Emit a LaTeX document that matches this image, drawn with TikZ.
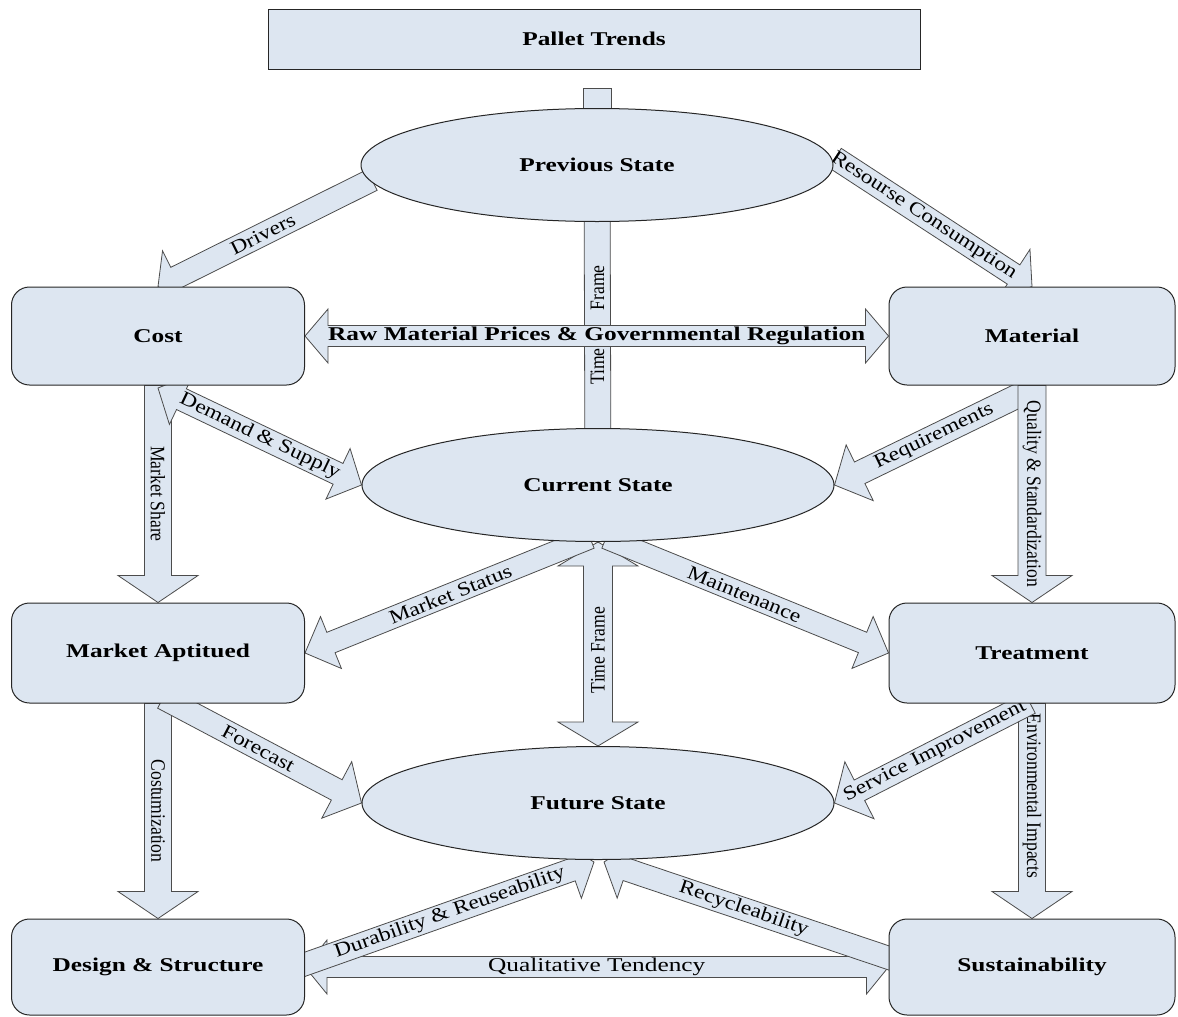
\documentclass[tikz,border=0pt]{standalone}
\usepackage{fontspec}
\setmainfont{Liberation Serif}[FakeStretch=1.3]
\newfontfamily\diagfont{Liberation Serif}[FakeStretch=1.2]
\newfontfamily\vertfont{Liberation Serif}[FakeStretch=0.86]
\usetikzlibrary{shapes.geometric,calc}
\definecolor{panel}{RGB}{221,230,241}
\pgfdeclarelayer{background}
\pgfsetlayers{background,main}
\tikzset{
    box/.style={draw=black!85, line width=1pt, fill=panel, rounded corners=18pt,
        minimum width=293pt, minimum height=98pt, font=\fontsize{19.5}{22}\selectfont\bfseries},
    state/.style={ellipse, draw=black!85, line width=1pt, fill=panel,
        minimum width=472pt, minimum height=113pt, font=\fontsize{19.5}{22}\selectfont\bfseries},
    title/.style={draw=black!85, line width=1pt, fill=panel,
        minimum width=652pt, minimum height=60pt, font=\fontsize{19.5}{22}\selectfont\bfseries},
    arrowbody/.style={draw=black!70, line width=0.8pt, fill=panel},
    tag/.style={inner sep=0pt, font=\diagfont\fontsize{19.5}{20}\selectfont},
    vtag/.style={inner sep=0pt, font=\vertfont\fontsize{20.5}{22}\selectfont},
    htag/.style={inner sep=0pt, font=\fontsize{19.5}{20}\selectfont},
    shaft/.store in=\shaftw, headw/.store in=\headw, headl/.store in=\headl,
    shaft=12pt, headw=32pt, headl=24pt
}
\newcommand\shaftbar[3][]{%
    \begin{scope}[#1]
    \draw[arrowbody] ($(#2)!\shaftw!90:(#3)$) -- ($(#3)!\shaftw!-90:(#2)$)
        -- ($(#3)!\shaftw!90:(#2)$) -- ($(#2)!\shaftw!-90:(#3)$) -- cycle;
    \end{scope}}
\newcommand\onearrow[3][]{%
    \begin{scope}[#1]
    \coordinate (hb) at ($(#3)!\headl!(#2)$);
    \draw[arrowbody] ($(#2)!\shaftw!90:(#3)$) -- ($(hb)!\shaftw!-90:(#2)$)
        -- ($(hb)!\headw!-90:(#2)$) -- (#3) -- ($(hb)!\headw!90:(#2)$)
        -- ($(hb)!\shaftw!90:(#2)$) -- ($(#2)!\shaftw!-90:(#3)$) -- cycle;
    \end{scope}}
\newcommand\twoarrow[3][]{%
    \begin{scope}[#1]
    \coordinate (ha) at ($(#2)!\headl!(#3)$);
    \coordinate (hb) at ($(#3)!\headl!(#2)$);
    \draw[arrowbody] (#2) -- ($(ha)!\headw!90:(#3)$) -- ($(ha)!\shaftw!90:(#3)$)
        -- ($(hb)!\shaftw!-90:(#2)$) -- ($(hb)!\headw!-90:(#2)$) -- (#3)
        -- ($(hb)!\headw!90:(#2)$) -- ($(hb)!\shaftw!90:(#2)$)
        -- ($(ha)!\shaftw!-90:(#3)$) -- ($(ha)!\headw!-90:(#3)$) -- cycle;
    \end{scope}}
\begin{document}
\begin{tikzpicture}[x=1pt, y=-1pt]
    \useasboundingbox (0,0) rectangle (1178,1017);
    \node[title] (trends) at (594,39) {Pallet Trends};
    \node[state] (prev) at (597,165) {Previous State};
    \node[state] (cur) at (598,485) {Current State};
    \node[state] (fut) at (598,803) {Future State};
    \node[box] (cost) at (158,336) {Cost};
    \node[box, minimum width=286pt] (mat) at (1032,336) {Material};
    \node[box, minimum height=100pt] (mkt) at (158,653) {Market Aptitued};
    \node[box, minimum width=286pt, minimum height=100pt] (treat) at (1032,653) {Treatment};
    \node[box, minimum height=96pt] (design) at (158,967) {Design \& Structure};
    \node[box, minimum width=286pt, minimum height=96pt] (sust) at (1032,967) {Sustainability};

    \begin{pgfonlayer}{background}
    \coordinate (stub) at (597,88);
    \shaftbar[shaft=14pt]{stub}{prev.center}

    \coordinate (drv) at (372,180);
    \onearrow[shaft=11.5pt, headw=30pt, headl=20pt]{drv}{cost.north}
    \path (drv) -- (cost.north) node[tag, sloped, pos=0.51] (drv-l) {Drivers};

    \coordinate (res) at (835,158);
    \onearrow[shaft=11.5pt, headw=30pt, headl=22pt]{res}{mat.north}
    \path (res) -- (mat.north) node[tag, sloped, pos=0.45] (res-l) {Resourse Consumption};

    \shaftbar[shaft=13pt]{prev.center}{cur.center}
    \path (prev.south) -- (cur.north) node[vtag, rotate=90, pos=0.5] (tf1-l) {Time\hspace{38pt}Frame};

    \twoarrow[shaft=10.5pt, headw=27pt, headl=23pt]{cost.east}{mat.west}
    \path (cost.east) -- (mat.west) node[htag, pos=0.5] (raw-l) {\bfseries Raw Material Prices \& Governmental Regulation};

    \onearrow[shaft=13.5pt, headw=40pt, headl=27pt]{cost.south}{mkt.north}
    \path (cost.south) -- (mkt.north) node[vtag, rotate=-90, pos=0.5] (ms-l) {Market Share};

    \coordinate (dem) at (158,388);
    \twoarrow[shaft=11.5pt, headw=28pt, headl=26pt]{dem}{cur.west}
    \path (dem) -- (cur.west) node[tag, sloped, pos=0.5] (dem-l) {Demand \& Supply};

    \coordinate (req) at (1030,390);
    \onearrow[shaft=12pt, headw=31pt, headl=28pt]{req}{cur.east}
    \path (req) -- (cur.east) node[tag, sloped, pos=0.49] (req-l) {Requirements};

    \onearrow[shaft=14pt, headw=40pt, headl=27pt]{mat.south}{treat.north}
    \path (mat.south) -- (treat.north) node[vtag, rotate=-90, pos=0.5] (qs-l) {Quality \& Standardization};

    \twoarrow[shaft=14.5pt, headw=40pt, headl=24pt]{cur.south}{fut.north}
    \path (cur.south) -- (fut.north) node[vtag, rotate=90, pos=0.53] (tf2-l) {Time Frame};

    \coordinate (mst) at (590,538);
    \onearrow[shaft=11pt, headw=28pt, headl=28pt]{mst}{mkt.east}
    \path (mst) -- (mkt.east) node[tag, sloped, pos=0.49] (mst-l) {Market Status};

    \coordinate (mnt) at (606,538);
    \onearrow[shaft=11pt, headw=28pt, headl=28pt]{mnt}{treat.west}
    \path (mnt) -- (treat.west) node[tag, sloped, pos=0.49] (mnt-l) {Maintenance};

    \onearrow[shaft=13.5pt, headw=40pt, headl=27pt]{mkt.south}{design.north}
    \path (mkt.south) -- (design.north) node[vtag, rotate=-90, pos=0.5] (cz-l) {Costumization};

    \coordinate (fc) at (163,698);
    \onearrow[shaft=11.5pt, headw=32pt, headl=28pt]{fc}{fut.west}
    \path (fc) -- (fut.west) node[tag, sloped, pos=0.48] (fc-l) {Forecast};

    \onearrow[shaft=13.5pt, headw=40pt, headl=27pt]{treat.south}{sust.north}
    \path (treat.south) -- (sust.north) node[vtag, rotate=-90, pos=0.43] (env-l) {Environmental Impacts};

    \coordinate (svc) at (1030,703);
    \onearrow[shaft=11.5pt, headw=32pt, headl=28pt]{svc}{fut.east}
    \path (svc) -- (fut.east) node[tag, sloped, pos=0.485] (svc-l) {Service Improvement};

    \twoarrow[shaft=10.5pt, headw=27pt, headl=22pt]{design.east}{sust.west}
    \path (design.east) -- (sust.west) node[htag, pos=0.5] (qt-l) {Qualitative Tendency};

    \coordinate (dur-a) at (300,966);
    \coordinate (dur-b) at (594,862);
    \onearrow[shaft=11.5pt, headw=30pt, headl=24pt]{dur-a}{dur-b}
    \path (dur-a) -- (dur-b) node[tag, sloped, pos=0.51] (dur-l) {Durability \& Reuseability};

    \coordinate (rec-a) at (895,960);
    \coordinate (rec-b) at (604,862);
    \onearrow[shaft=11.5pt, headw=30pt, headl=24pt]{rec-a}{rec-b}
    \path (rec-a) -- (rec-b) node[tag, sloped, pos=0.52] (rec-l) {Recycleability};
    \end{pgfonlayer}
\end{tikzpicture}
\end{document}
